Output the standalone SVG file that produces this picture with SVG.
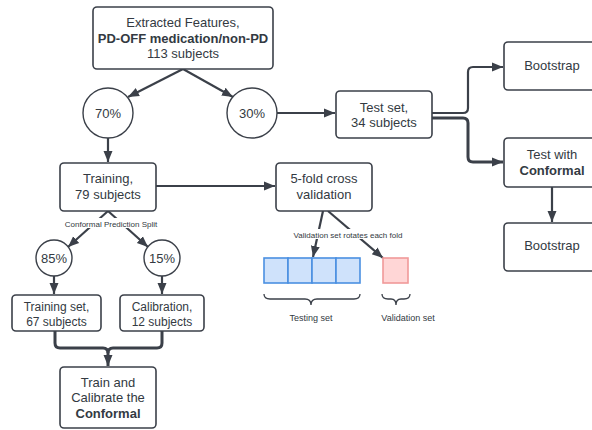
<svg xmlns="http://www.w3.org/2000/svg" width="592" height="430" viewBox="0 0 592 430">
<style>
.box{fill:#fff;stroke:#3b4049;stroke-width:1.6}
.circ{fill:#fff;stroke:#3b4049;stroke-width:1.4}
.t{font-family:"Liberation Sans",Arial,sans-serif;font-size:13px;fill:#333a42;text-anchor:middle}
.s{font-size:12px}
.b{font-weight:bold}
.sm{font-size:8px}
.lbl{font-size:9px}
.ln{fill:none;stroke:#3b4049;stroke-width:2.2}
.thick{stroke-width:3}
.blue{fill:#cfe2fb;stroke:#4a90e2;stroke-width:1.6}
.red{fill:#ffd6d6;stroke:#f19999;stroke-width:1.6}
.brace{fill:none;stroke:#3b4049;stroke-width:1.3}
</style>
<defs>
<marker id="ah" markerUnits="userSpaceOnUse" markerWidth="12" markerHeight="12" viewBox="0 0 12 12" refX="11" refY="6" orient="auto">
<path d="M0,1.5 L11,6 L0,10.5 Z" fill="#3b4049"/>
</marker>
</defs>
<rect width="592" height="430" fill="#fff"/>

<g id="connectors">
<path class="ln" d="M183,69 L128,97" marker-end="url(#ah)"/>
<path class="ln" d="M183,69 L233,97" marker-end="url(#ah)"/>
<path class="ln" d="M108,138 L108,162" marker-end="url(#ah)"/>
<path class="ln" d="M277,113 L335,113" marker-end="url(#ah)"/>
<path class="ln" d="M432,113 L463,113 Q468,113 468,108 L468,72 Q468,67 473,67 L503,67" marker-end="url(#ah)"/>
<path class="ln thick" d="M432,118 L463,118 Q468,118 468,123 L468,157 Q468,162 473,162 L503,162" marker-end="url(#ah)"/>
<path class="ln" d="M552,187 L552,222" marker-end="url(#ah)"/>
<path class="ln" d="M156,186 L275,186" marker-end="url(#ah)"/>
<path class="ln" d="M323,211 L313,257" marker-end="url(#ah)"/>
<path class="ln" d="M328,211 L383,258" marker-end="url(#ah)"/>
<path class="ln" d="M108,211 L68,247" marker-end="url(#ah)"/>
<path class="ln" d="M108,211 L148,247" marker-end="url(#ah)"/>
<path class="ln" d="M54,276 L54,294" marker-end="url(#ah)"/>
<path class="ln" d="M162,276 L162,294" marker-end="url(#ah)"/>
<path class="ln thick" d="M55,331 L55,343 Q55,348 60,348 L103,348 Q108,348 108,353 L108,366" marker-end="url(#ah)"/>
<path class="ln thick" d="M162,331 L162,343 Q162,348 157,348 L113,348 Q108,348 108,353"/>
<rect x="64" y="218" width="94" height="10" fill="#fff"/>
<text class="t sm" x="111" y="226.5">Conformal Prediction Split</text>
<rect x="293" y="229" width="111" height="10" fill="#fff"/>
<text class="t sm" x="348" y="237.5">Validation set rotates each fold</text>
</g>

<g id="n-extracted">
<rect class="box" x="93" y="7" width="180" height="62" rx="4"/>
<text class="t" x="183" y="26.5">Extracted Features,</text>
<text class="t b" x="183" y="42.5">PD-OFF medication/non-PD</text>
<text class="t" x="183" y="58">113 subjects</text>
</g>

<g id="n-70">
<circle class="circ" cx="108" cy="113" r="25"/>
<text class="t" x="108" y="117.5">70%</text>
</g>

<g id="n-30">
<circle class="circ" cx="252" cy="113" r="25"/>
<text class="t" x="252" y="117.5">30%</text>
</g>

<g id="n-testset">
<rect class="box" x="336" y="91" width="96" height="47" rx="4"/>
<text class="t" x="384" y="111.5">Test set,</text>
<text class="t" x="384" y="126.5">34 subjects</text>
</g>

<g id="n-bootstrap1">
<rect class="box" x="504" y="42" width="100" height="48" rx="4"/>
<text class="t" x="552" y="70">Bootstrap</text>
</g>

<g id="n-testconformal">
<rect class="box" x="504" y="138" width="100" height="49" rx="4"/>
<text class="t" x="552" y="159">Test with</text>
<text class="t b" x="552" y="175">Conformal</text>
</g>

<g id="n-bootstrap2">
<rect class="box" x="504" y="223" width="100" height="48" rx="4"/>
<text class="t" x="552" y="250">Bootstrap</text>
</g>

<g id="n-training">
<rect class="box" x="60" y="163" width="96" height="48" rx="4"/>
<text class="t" x="108" y="182.5">Training,</text>
<text class="t" x="108" y="198.5">79 subjects</text>
</g>

<g id="n-5fold">
<rect class="box" x="276" y="163" width="96" height="48" rx="4"/>
<text class="t" x="324" y="183">5-fold cross</text>
<text class="t" x="324" y="199">validation</text>
</g>

<g id="n-85">
<circle class="circ" cx="54" cy="258" r="18"/>
<text class="t" x="54" y="262.5">85%</text>
</g>

<g id="n-15">
<circle class="circ" cx="162" cy="258" r="18"/>
<text class="t" x="162" y="262.5">15%</text>
</g>

<g id="n-trainingset">
<rect class="box" x="12" y="295" width="89" height="36" rx="4"/>
<text class="t s" x="56.5" y="311">Training set,</text>
<text class="t s" x="56.5" y="326">67 subjects</text>
</g>

<g id="n-calibration">
<rect class="box" x="120" y="295" width="84" height="36" rx="4"/>
<text class="t s" x="162" y="311">Calibration,</text>
<text class="t s" x="162" y="326">12 subjects</text>
</g>

<g id="n-traincal">
<rect class="box" x="60" y="367" width="96" height="61" rx="4"/>
<text class="t" x="108" y="386.5">Train and</text>
<text class="t" x="108" y="402">Calibrate the</text>
<text class="t b" x="108" y="418">Conformal</text>
</g>

<g id="n-testingset">
<rect class="blue" x="264" y="258" width="24" height="25"/>
<rect class="blue" x="288" y="258" width="24" height="25"/>
<rect class="blue" x="312" y="258" width="24" height="25"/>
<rect class="blue" x="336" y="258" width="24" height="25"/>
<path class="brace" d="M264,294 Q264,299 270,299 L305,299 Q311,299 311,305 Q311,299 317,299 L354,299 Q360,299 360,294"/>
<text class="t lbl" x="311" y="321">Testing set</text>
</g>

<g id="n-validationset">
<rect class="red" x="383" y="258" width="25" height="25"/>
<path class="brace" d="M382,294 Q382,299 388,299 L391,299 Q396,299 396,305 Q396,299 401,299 L404,299 Q410,299 410,294"/>
<text class="t lbl" x="408" y="321">Validation set</text>
</g>
</svg>
